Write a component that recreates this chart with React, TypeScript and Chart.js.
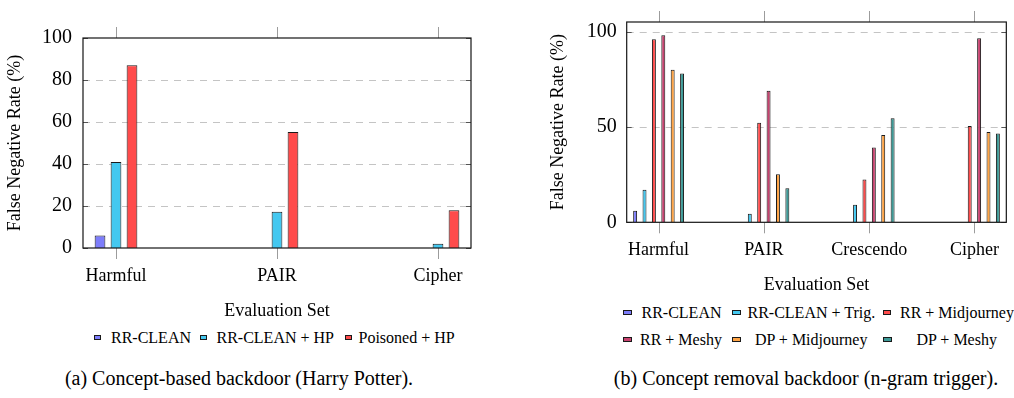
import React, { useEffect, useRef } from "react";
import { Chart, registerables } from "chart.js";

Chart.register(...registerables);

const SERIF =
  "'Liberation Serif', 'DejaVu Serif', 'Times New Roman', 'Liberation Sans', sans-serif";

// ---- (a) concept-based backdoor ----
const setsA = ["Harmful", "PAIR", "Cipher"];
const namesA = ["RR-CLEAN", "RR-CLEAN + HP", "Poisoned + HP"];
const rrCleanA = [6, 0, 0];
const rrCleanHpA = [41, 17.3, 2];
const poisonedHpA = [87, 55.2, 18];
const yTicksA = [0, 20, 40, 60, 80, 100];

// ---- (b) concept removal backdoor ----
const setsB = ["Harmful", "PAIR", "Crescendo", "Cipher"];
const namesB = [
  "RR-CLEAN",
  "RR-CLEAN + Trig.",
  "RR + Midjourney",
  "RR + Meshy",
  "DP + Midjourney",
  "DP + Meshy",
];
const rrCleanB = [6, 0, 0, 0];
const rrCleanTrigB = [17, 4.5, 9.2, 0];
const rrMidjourneyB = [96, 52.2, 22.5, 50.5];
const rrMeshyB = [98, 69, 39.2, 96.5];
const dpMidjourneyB = [80, 25.2, 45.8, 47.3];
const dpMeshyB = [78, 17.8, 54.5, 46.5];
const yTicksB = [0, 50, 100];

const AXIS_TITLE_X = "Evaluation Set";
const AXIS_TITLE_Y = "False Negative Rate (%)";
const CAPTION_A = "(a) Concept-based backdoor (Harry Potter).";
const CAPTION_B = "(b) Concept removal backdoor (n-gram trigger).";

const BLUE = "#7d7dfb";
const CYAN = "#44c8f0";
const RED = "#ff4b4b";
const PINK = "#c8426f";
const ORANGE = "#ffa445";
const TEAL = "#3d9a97";

const colorsA = [BLUE, CYAN, RED];
const colorsB = [BLUE, CYAN, RED, PINK, ORANGE, TEAL];

// pgfplots-like decorations: dashed grid, outward x ticks, inward y ticks, frame
const framePlugin = {
  id: "pgfFrame",
  beforeDatasetsDraw(chart: any) {
    const { ctx, chartArea: a, scales } = chart;
    const y = scales.y;
    ctx.save();
    ctx.strokeStyle = "#c4c4c4";
    ctx.lineWidth = 1;
    ctx.setLineDash([7, 6]);
    for (const t of y.ticks) {
      if (t.value <= y.min || t.value >= y.max) continue;
      const py = Math.round(y.getPixelForValue(t.value)) + 0.5;
      ctx.beginPath();
      ctx.moveTo(a.left, py);
      ctx.lineTo(a.right, py);
      ctx.stroke();
    }
    ctx.restore();
  },
  afterDatasetsDraw(chart: any) {
    const { ctx, chartArea: a, scales } = chart;
    ctx.save();
    ctx.lineWidth = 1;
    ctx.strokeStyle = "#9c9c9c";
    for (const t of scales.x.ticks) {
      const px = Math.round(scales.x.getPixelForValue(t.value)) + 0.5;
      ctx.beginPath();
      ctx.moveTo(px, a.top - 11);
      ctx.lineTo(px, a.top);
      ctx.moveTo(px, a.bottom);
      ctx.lineTo(px, a.bottom + 11);
      ctx.stroke();
    }
    ctx.strokeStyle = "#555";
    for (const t of scales.y.ticks) {
      const py = Math.round(scales.y.getPixelForValue(t.value)) + 0.5;
      ctx.beginPath();
      ctx.moveTo(a.left, py);
      ctx.lineTo(a.left + 5, py);
      ctx.moveTo(a.right - 5, py);
      ctx.lineTo(a.right, py);
      ctx.stroke();
    }
    ctx.strokeStyle = "#151515";
    ctx.lineWidth = 1.2;
    ctx.strokeRect(a.left, a.top, a.right - a.left, a.bottom - a.top);
    ctx.restore();
  },
};

type Geom = {
  yAxisWidth: number;
  xAxisHeight: number;
  padTop: number;
  padRight: number;
  yTitlePad: number;
  yTickPad: number;
  xTickPad: number;
  xTitlePad: number;
  xPad: number;
  catPct: number;
  barPct: number;
  yMax: number;
};

function buildConfig(
  sets: string[],
  names: string[],
  colors: string[],
  series: number[][],
  yTicks: number[],
  g: Geom
): any {
  const font = { family: SERIF, size: 18 };
  const numFont = { family: SERIF, size: 20 };
  return {
    type: "bar",
    data: {
      datasets: series.map((vals, k) => ({
        label: names[k],
        data: vals.map((v, i) => ({ x: i, y: v })),
        backgroundColor: colors[k],
        borderColor: "#1a1a1a",
        borderWidth: 1,
        categoryPercentage: g.catPct,
        barPercentage: g.barPct,
      })),
    },
    options: {
      animation: false,
      responsive: false,
      maintainAspectRatio: false,
      layout: { padding: { top: g.padTop, right: g.padRight, left: 0, bottom: 0 } },
      plugins: { legend: { display: false }, tooltip: { enabled: false } },
      scales: {
        x: {
          type: "linear",
          min: -g.xPad,
          max: sets.length - 1 + g.xPad,
          offset: false,
          grid: { display: false, drawTicks: false },
          border: { display: false },
          afterBuildTicks: (s: any) => {
            s.ticks = sets.map((_, i) => ({ value: i }));
          },
          ticks: {
            callback: (v: number) => sets[v],
            font,
            color: "#000",
            padding: g.xTickPad,
            maxRotation: 0,
            autoSkip: false,
          },
          title: {
            display: true,
            text: AXIS_TITLE_X,
            font,
            color: "#000",
            padding: { top: 0, bottom: g.xTitlePad },
          },
          afterFit: (s: any) => {
            s.height = g.xAxisHeight;
          },
        },
        y: {
          min: 0,
          max: g.yMax,
          grid: { display: false, drawTicks: false },
          border: { display: false },
          afterBuildTicks: (s: any) => {
            s.ticks = yTicks.map((v) => ({ value: v }));
          },
          ticks: { font: numFont, color: "#000", padding: g.yTickPad },
          title: {
            display: true,
            text: AXIS_TITLE_Y,
            font,
            color: "#000",
            padding: { top: g.yTitlePad, bottom: 0 },
          },
          afterFit: (s: any) => {
            s.width = g.yAxisWidth;
          },
        },
      },
    },
    plugins: [framePlugin],
  };
}

function BarCanvas(props: {
  left: number;
  width: number;
  height: number;
  config: () => any;
}) {
  const ref = useRef<HTMLCanvasElement | null>(null);
  useEffect(() => {
    if (!ref.current) return;
    const chart = new Chart(ref.current, props.config());
    return () => chart.destroy();
  }, []);
  return (
    <canvas
      ref={ref}
      width={props.width}
      height={props.height}
      style={{
        position: "absolute",
        left: props.left,
        top: 0,
        width: props.width,
        height: props.height,
      }}
    />
  );
}

type LegendItem = { box: number; text: number; y: number; w: number };

function Legend(props: { names: string[]; colors: string[]; items: LegendItem[] }) {
  return (
    <>
      {props.items.map((it, k) => (
        <React.Fragment key={k}>
          <div
            style={{
              position: "absolute",
              left: it.box,
              top: it.y - 3,
              width: it.w,
              height: 5,
              background: props.colors[k],
              border: "1px solid #1a1a1a",
              boxSizing: "border-box",
            }}
          />
          <div
            style={{
              position: "absolute",
              left: it.text,
              top: it.y - 10,
              lineHeight: "20px",
              fontSize: 16,
              fontFamily: SERIF,
              color: "#000",
              whiteSpace: "nowrap",
            }}
          >
            {props.names[k]}
          </div>
        </React.Fragment>
      ))}
    </>
  );
}

const legendA: LegendItem[] = [
  { box: 94, text: 111, y: 338, w: 7 },
  { box: 200, text: 216.5, y: 338, w: 7 },
  { box: 345, text: 358.5, y: 338, w: 7 },
];

const legendB: LegendItem[] = [
  { box: 623, text: 641.5, y: 312.5, w: 8.5 },
  { box: 732, text: 747.5, y: 312.5, w: 8.5 },
  { box: 882.5, text: 900, y: 312.5, w: 8.5 },
  { box: 623, text: 640, y: 339.5, w: 8.5 },
  { box: 732, text: 755, y: 339.5, w: 8.5 },
  { box: 883, text: 916.5, y: 339.5, w: 8.5 },
];

function Caption(props: { text: string; cx: number; cy: number }) {
  return (
    <div
      style={{
        position: "absolute",
        left: props.cx - 300,
        width: 600,
        top: props.cy - 12,
        lineHeight: "24px",
        textAlign: "center",
        fontSize: 20,
        fontFamily: SERIF,
        color: "#000",
        whiteSpace: "nowrap",
      }}
    >
      {props.text}
    </div>
  );
}

export default function App() {
  const configA = () =>
    buildConfig(setsA, namesA, colorsA, [rrCleanA, rrCleanHpA, poisonedHpA], yTicksA, {
      yAxisWidth: 83,
      xAxisHeight: 77,
      padTop: 38,
      padRight: 19,
      yTitlePad: 4.2,
      yTickPad: 11,
      xTickPad: 17,
      xTitlePad: 2.5,
      xPad: 0.205,
      catPct: 0.298,
      barPct: 0.67,
      yMax: 100,
    });
  const configB = () =>
    buildConfig(
      setsB,
      namesB,
      colorsB,
      [rrCleanB, rrCleanTrigB, rrMidjourneyB, rrMeshyB, dpMidjourneyB, dpMeshyB],
      yTicksB,
      {
        yAxisWidth: 106.7,
        xAxisHeight: 77.7,
        padTop: 12.7,
        padRight: 1,
        yTitlePad: 27.5,
        yTickPad: 10,
        xTickPad: 17,
        xTitlePad: 4.2,
        xPad: 0.303,
        catPct: 0.535,
        barPct: 0.42,
        yMax: 105,
      }
    );
  return (
    <div
      style={{
        position: "absolute",
        left: 0,
        top: 0,
        width: 1014,
        height: 398,
        overflow: "hidden",
        background: "#fff",
      }}
    >
      <BarCanvas left={0} width={490} height={325} config={configA} />
      <BarCanvas left={520} width={496} height={300} config={configB} />
      <Legend names={namesA} colors={colorsA} items={legendA} />
      <Legend names={namesB} colors={colorsB} items={legendB} />
      <Caption text={CAPTION_A} cx={239} cy={378} />
      <Caption text={CAPTION_B} cx={806} cy={378} />
    </div>
  );
}
